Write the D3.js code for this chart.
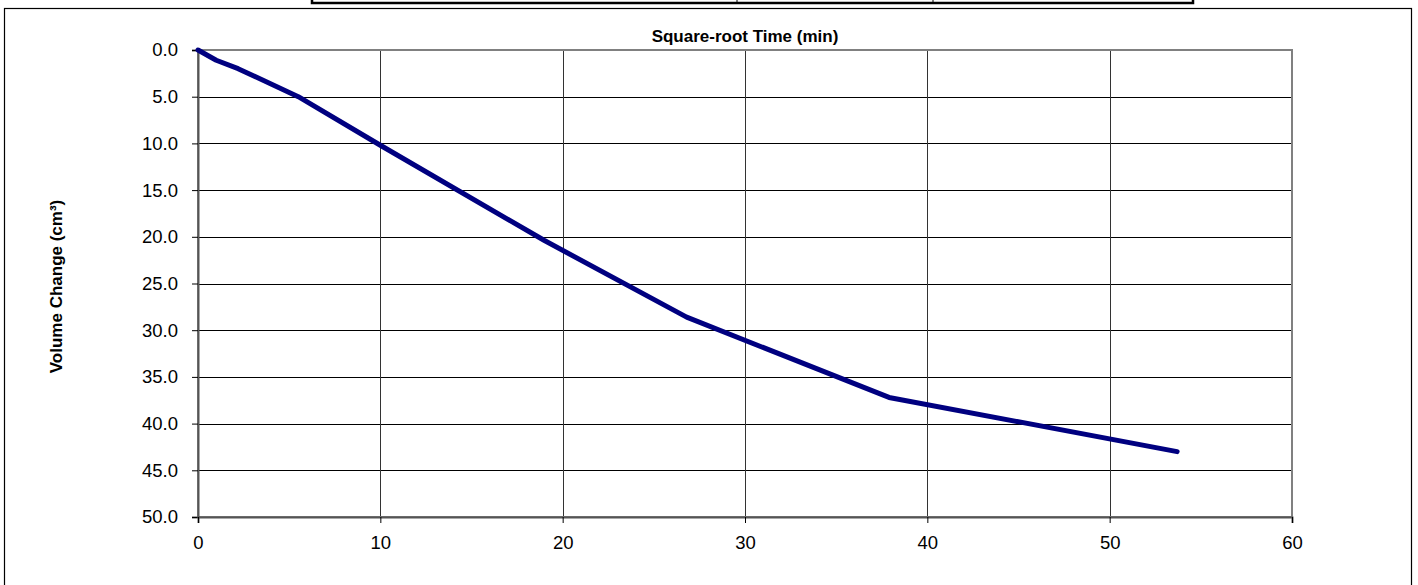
<!DOCTYPE html>
<html>
<head>
<meta charset="utf-8">
<script src="https://cdn.jsdelivr.net/npm/d3@7"></script>
<style>
  body { margin: 0; background: #fff; }
  text { font-family: "Liberation Sans", Arial, sans-serif; }
</style>
</head>
<body>
<div id="chart"></div>
<script>
// sqrt(time) vs volume change
const sqrtTime = [0, 1.0, 2.2, 5.5, 10.0, 19.0, 26.8, 37.9, 53.7];
const volumeChange = [0, 1.1, 2.0, 5.0, 10.2, 20.4, 28.6, 37.2, 43.0];
const xTicks = [0, 10, 20, 30, 40, 50, 60];
const yTicks = [0, 5, 10, 15, 20, 25, 30, 35, 40, 45, 50];

const W = 1418, H = 585;
const margin = {top: 50, right: 126, bottom: 68, left: 198};
const width = W - margin.left - margin.right;
const height = H - margin.top - margin.bottom;

const root = d3.select("#chart").append("svg")
  .attr("width", W)
  .attr("height", H);

// outer chart frame
root.append("rect")
  .attr("x", 4.5).attr("y", 8.5)
  .attr("width", 1407).attr("height", 600)
  .attr("fill", "none")
  .attr("stroke", "#000")
  .attr("stroke-width", 1.2);

// header box cut off at top
root.append("rect")
  .attr("x", 312).attr("y", -20)
  .attr("width", 881).attr("height", 23)
  .attr("fill", "none")
  .attr("stroke", "#000")
  .attr("stroke-width", 2.5);
[737, 933].forEach(x => {
  root.append("line")
    .attr("x1", x).attr("x2", x).attr("y1", 0).attr("y2", 3)
    .attr("stroke", "#000");
});

const svg = root.append("g")
  .attr("transform", `translate(${margin.left},${margin.top})`);

const xScale = d3.scaleLinear().domain([0, 60]).range([0, width]);
const yScale = d3.scaleLinear().domain([0, 50]).range([0, height]);

// grid lines
svg.append("g").attr("class", "grid")
  .selectAll("line.h").data(yTicks.slice(1, -1)).join("line")
  .attr("x1", 0).attr("x2", width)
  .attr("y1", d => Math.round(yScale(d)) + 0.5)
  .attr("y2", d => Math.round(yScale(d)) + 0.5)
  .attr("stroke", "#000").attr("stroke-width", 1);

svg.append("g").attr("class", "grid")
  .selectAll("line.v").data(xTicks.slice(1, -1)).join("line")
  .attr("y1", 0).attr("y2", height)
  .attr("x1", d => Math.round(xScale(d)) + 0.5)
  .attr("x2", d => Math.round(xScale(d)) + 0.5)
  .attr("stroke", "#333").attr("stroke-width", 1);

// plot border
svg.append("rect")
  .attr("x", 0).attr("y", 0)
  .attr("width", width).attr("height", height)
  .attr("fill", "none")
  .attr("stroke", "#808080")
  .attr("stroke-width", 2);

// axes
const yAxis = svg.append("g")
  .call(d3.axisLeft(yScale).tickValues(yTicks).tickSize(6).tickPadding(14)
    .tickFormat(d3.format(".1f")));
const xAxis = svg.append("g")
  .attr("transform", `translate(0,${height})`)
  .call(d3.axisBottom(xScale).tickValues(xTicks).tickSize(6).tickPadding(13));

[yAxis, xAxis].forEach(ax => {
  ax.select(".domain").attr("stroke", "#555").attr("stroke-width", 2);
  ax.selectAll(".tick line").attr("stroke", "#000");
  ax.selectAll(".tick text")
    .attr("fill", "#000")
    .style("font-size", "18.5px")
    .style("font-family", "'Liberation Sans', Arial, sans-serif");
});

// titles
svg.append("text")
  .attr("x", width / 2)
  .attr("y", -8)
  .attr("text-anchor", "middle")
  .style("font-size", "17px")
  .style("font-weight", "bold")
  .text("Square-root Time (min)");

svg.append("text")
  .attr("transform", "rotate(-90)")
  .attr("x", -height / 2 - 3)
  .attr("y", -136)
  .attr("text-anchor", "middle")
  .style("font-size", "17px")
  .style("font-weight", "bold")
  .text("Volume Change (cm³)");

// data line
const line = d3.line()
  .x((d, i) => xScale(sqrtTime[i]))
  .y(d => yScale(d));

svg.append("path")
  .datum(volumeChange)
  .attr("fill", "none")
  .attr("stroke", "#000080")
  .attr("stroke-width", 5)
  .attr("stroke-linecap", "round")
  .attr("stroke-linejoin", "round")
  .attr("d", line);
</script>
</body>
</html>
